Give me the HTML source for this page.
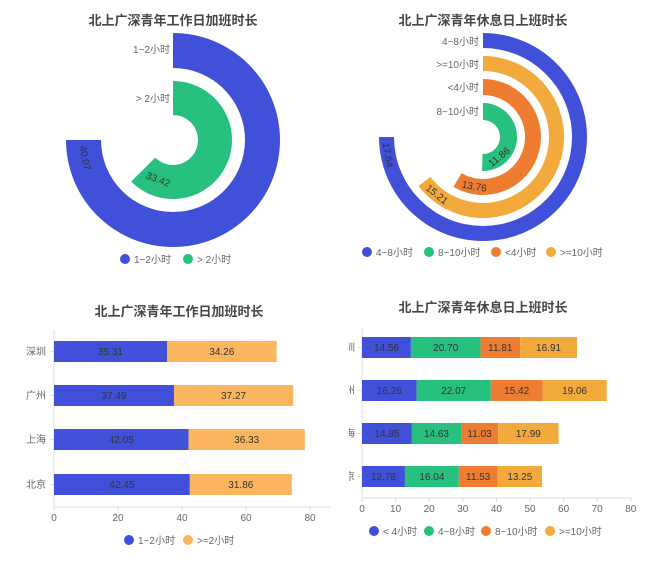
<!DOCTYPE html>
<html><head><meta charset="utf-8"><style>
html,body{margin:0;padding:0;background:#fff;}
svg{display:block;font-family:"Liberation Sans","Noto Sans CJK SC",sans-serif;}
</style></head><body>
<svg id="s" width="657" height="563" viewBox="0 0 657 563" xmlns="http://www.w3.org/2000/svg">
<g font-size="13" font-weight="bold" fill="#464646" text-anchor="middle">
<text x="173" y="25">北上广深青年工作日加班时长</text>
<text x="483" y="25">北上广深青年休息日上班时长</text>
<text x="179" y="316">北上广深青年工作日加班时长</text>
<text x="483" y="312">北上广深青年休息日上班时长</text>
</g>
</svg>
<script>
var NS="http://www.w3.org/2000/svg",s=document.getElementById('s');
function el(t,a,txt){var e=document.createElementNS(NS,t);for(var k in a)e.setAttribute(k,a[k]);if(txt!=null)e.textContent=txt;s.appendChild(e);return e;}
function pt(cx,cy,r,a){var t=a*Math.PI/180;return [cx+r*Math.sin(t),cy-r*Math.cos(t)];}
function arc(cx,cy,r0,r1,deg,col,val){
 var p1=pt(cx,cy,r1,0),p2=pt(cx,cy,r1,deg),p3=pt(cx,cy,r0,deg),p4=pt(cx,cy,r0,0),l=deg>180?1:0;
 el('path',{d:'M'+p1+' A'+r1+' '+r1+' 0 '+l+' 1 '+p2+' L'+p3+' A'+r0+' '+r0+' 0 '+l+' 0 '+p4+'Z',fill:col});
 var rm=(r0+r1)/2,off=18/rm*180/Math.PI,a=deg-off,m=pt(cx,cy,rm,a);
 el('text',{x:m[0],y:m[1]+3.5,'font-size':'10',fill:'#333','text-anchor':'middle',transform:'rotate('+(a-180)+' '+m[0]+' '+m[1]+')'},val);
}
function lbl(x,y,t,anchor){el('text',{x:x,y:y,'font-size':'10',fill:'#666','text-anchor':anchor||'end'},t);}
function leg(x,y,c,t){el('circle',{cx:x,cy:y,r:5,fill:c});el('text',{x:x+9,y:y+4,'font-size':'10',fill:'#666'},t);}
var B='#4150d8',G='#27c07f',O='#ef7d31',Y='#f2aa3d',Y2='#fbb55e';
// top-left
arc(173,140,72,107,270,B,'40.07');arc(173,140,25,59,33.42/53.43*360,G,'33.42');
lbl(170,53,'1~2小时');lbl(170,102,'> 2小时');
leg(125,259,B,'1~2小时');leg(188,259,G,'> 2小时');
// top-right
var M=23.52;
arc(483,137,89,104,270,B,'17.64');arc(483,137,66,81,15.21/M*360,Y,'15.21');
arc(483,137,42,58,13.76/M*360,O,'13.76');arc(483,137,17,34,11.86/M*360,G,'11.86');
lbl(479,45,'4~8小时');lbl(479,68,'>=10小时');lbl(479,91,'<4小时');lbl(479,115,'8~10小时');
leg(367,252,B,'4~8小时');leg(429,252,G,'8~10小时');leg(496,252,O,'<4小时');leg(551,252,Y,'>=10小时');
// bottom-left
el('line',{x1:54,y1:330,x2:54,y2:507,stroke:'#ddd'});el('line',{x1:54,y1:507,x2:330,y2:507,stroke:'#ddd'});
[0,20,40,60,80].forEach(function(v){var x=54+v*3.2;el('line',{x1:x,y1:507,x2:x,y2:511,stroke:'#ddd'});lbl(x,521,v,'middle');});
var bl=[['深圳',341,35.31,34.26],['广州',385,37.49,37.27],['上海',429,42.05,36.33],['北京',474,42.45,31.86]];
bl.forEach(function(d){var x=54,w1=d[2]*3.2,w2=d[3]*3.2;
 el('rect',{x:x,y:d[1],width:w1,height:21,fill:B});el('rect',{x:x+w1,y:d[1],width:w2,height:21,fill:Y2});
 el('text',{x:x+w1/2,y:d[1]+14,'font-size':'10',fill:'#333','text-anchor':'middle'},d[2].toFixed(2));
 el('text',{x:x+w1+w2/2,y:d[1]+14,'font-size':'10',fill:'#333','text-anchor':'middle'},d[3].toFixed(2));
 el('line',{x1:50,y1:d[1]+10.5,x2:54,y2:d[1]+10.5,stroke:'#ddd'});
 lbl(46,d[1]+14,d[0]);});
leg(129,540,B,'1~2小时');leg(188,540,Y2,'>=2小时');
// bottom-right
el('line',{x1:362,y1:327,x2:362,y2:498,stroke:'#ddd'});el('line',{x1:362,y1:498,x2:631,y2:498,stroke:'#ddd'});
[0,10,20,30,40,50,60,70,80].forEach(function(v){var x=362+v*3.36;el('line',{x1:x,y1:498,x2:x,y2:502,stroke:'#ddd'});lbl(x,512,v,'middle');});
var cp=document.createElementNS(NS,'clipPath');cp.setAttribute('id','cl');var cr=document.createElementNS(NS,'rect');
cr.setAttribute('x',349);cr.setAttribute('y',300);cr.setAttribute('width',12);cr.setAttribute('height',200);cp.appendChild(cr);s.appendChild(cp);
var br=[['深圳',337,[14.56,20.70,11.81,16.91]],['广州',380,[16.26,22.07,15.42,19.06]],['上海',423,[14.85,14.63,11.03,17.99]],['北京',466,[12.78,16.04,11.53,13.25]]];
var cols=[B,G,O,Y];
br.forEach(function(d){var x=362;d[2].forEach(function(v,i){var w=v*3.36;
 el('rect',{x:x,y:d[1],width:w,height:21,fill:cols[i]});
 el('text',{x:x+w/2,y:d[1]+14,'font-size':'10',fill:'#333','text-anchor':'middle'},v.toFixed(2));x+=w;});
 el('line',{x1:358,y1:d[1]+10.5,x2:362,y2:d[1]+10.5,stroke:'#ddd'});
 el('text',{x:355,y:d[1]+14,'font-size':'10',fill:'#666','text-anchor':'end','clip-path':'url(#cl)'},d[0]);});
leg(374,531,B,'< 4小时');leg(429,531,G,'4~8小时');leg(486,531,O,'8~10小时');leg(550,531,Y,'>=10小时');
</script>
</body></html>
